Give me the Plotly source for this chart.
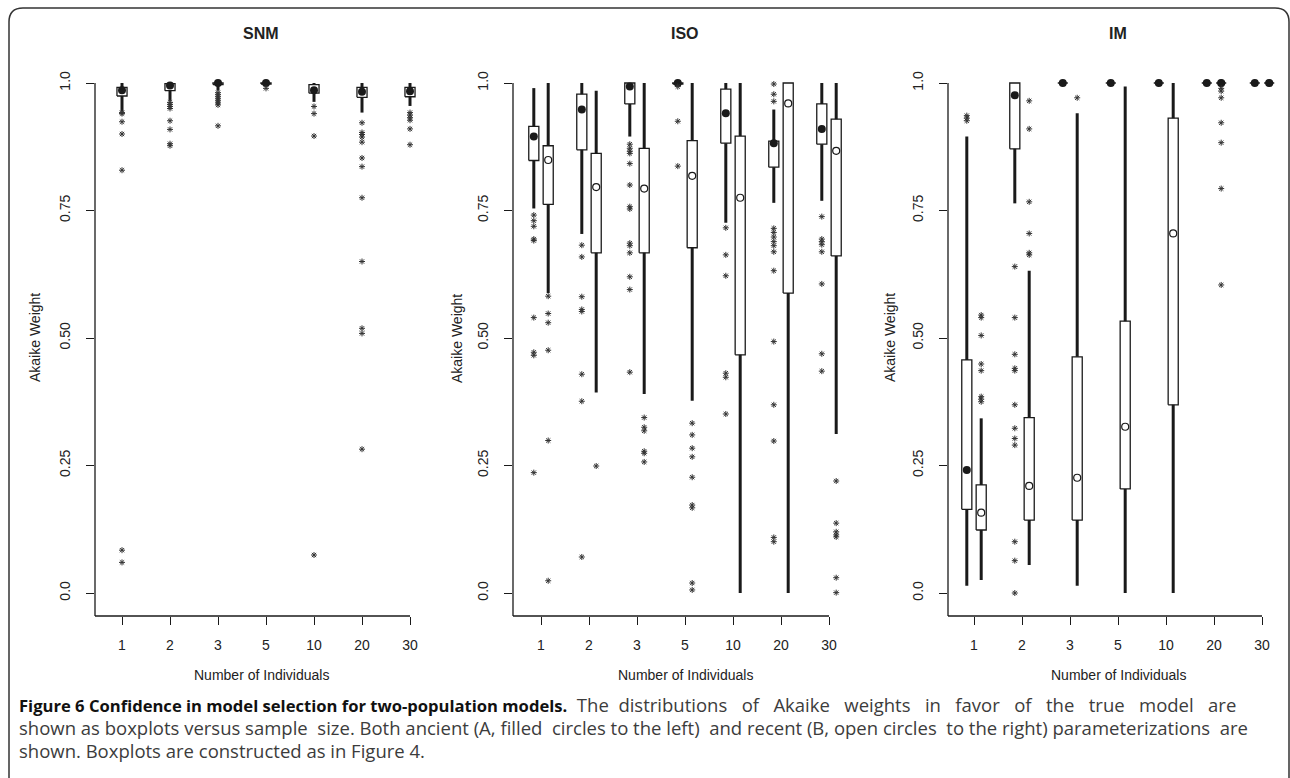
import plotly.graph_objects as go

# ---------------- data ----------------
categories = ["1", "2", "3", "5", "10", "20", "30"]
panel_titles = ["SNM", "ISO", "IM"]
y_tick_vals = [0.0, 0.25, 0.5, 0.75, 1.0]
y_tick_text = ["0.0", "0.25", "0.50", "0.75", "1.0"]
x_title = "Number of Individuals"
y_title = "Akaike Weight"

# SNM (single parameterization)
snm_low = [0.944, 0.965, 0.985, 0.995, 0.963, 0.942, 0.955]
snm_q1 = [0.9745, 0.985, 0.997, 0.998, 0.980, 0.972, 0.973]
snm_med = [0.986, 0.995, 1.0, 1.0, 0.986, 0.983, 0.984]
snm_q3 = [0.9915, 0.9987, 1.0, 1.0, 0.9967, 0.9915, 0.9915]
snm_high = [1.0, 1.0, 1.0, 1.0, 1.0, 1.0, 1.0]
snm_out = [
    [0.942, 0.940, 0.924, 0.900, 0.829, 0.084, 0.060],
    [0.962, 0.958, 0.954, 0.950, 0.926, 0.909, 0.881, 0.877],
    [0.981, 0.977, 0.973, 0.969, 0.965, 0.961, 0.957, 0.916],
    [0.9895],
    [0.954, 0.940, 0.896, 0.0745],
    [0.922, 0.903, 0.899, 0.894, 0.884, 0.853, 0.836, 0.775, 0.650, 0.519, 0.509, 0.282],
    [0.942, 0.937, 0.932, 0.927, 0.910, 0.879],
]

# ISO, ancient (A)
iso_a_low = [0.754, 0.704, 0.895, 0.997, 0.726, 0.765, 0.769]
iso_a_q1 = [0.848, 0.869, 0.959, 0.998, 0.882, 0.835, 0.880]
iso_a_med = [0.895, 0.948, 0.993, 1.0, 0.9405, 0.882, 0.910]
iso_a_q3 = [0.915, 0.978, 1.0, 1.0, 0.988, 0.886, 0.959]
iso_a_high = [0.990, 1.0, 1.0, 1.0, 1.0, 0.948, 1.0]
iso_a_out = [
    [0.741, 0.730, 0.719, 0.694, 0.691, 0.540, 0.472, 0.466, 0.236],
    [0.682, 0.659, 0.581, 0.556, 0.552, 0.429, 0.376, 0.0706],
    [0.880, 0.872, 0.866, 0.862, 0.842, 0.800, 0.7575, 0.753, 0.686, 0.681, 0.667, 0.620, 0.595, 0.433],
    [0.993, 0.925, 0.837],
    [0.716, 0.663, 0.622, 0.431, 0.423, 0.351],
    [0.998, 0.978, 0.964, 0.715, 0.707, 0.698, 0.689, 0.681, 0.669, 0.632, 0.493, 0.369, 0.298, 0.109, 0.1006],
    [0.738, 0.694, 0.689, 0.683, 0.669, 0.606, 0.469, 0.435],
]
# ISO, recent (B)
iso_b_low = [0.588, 0.393, 0.390, 0.377, 0.0, 0.0, 0.312]
iso_b_q1 = [0.762, 0.667, 0.667, 0.677, 0.467, 0.588, 0.661]
iso_b_med = [0.849, 0.796, 0.793, 0.818, 0.775, 0.960, 0.867]
iso_b_q3 = [0.877, 0.862, 0.872, 0.887, 0.896, 1.0, 0.929]
iso_b_high = [1.0, 0.985, 1.0, 1.0, 1.0, 1.0, 1.0]
iso_b_out = [
    [0.582, 0.548, 0.530, 0.476, 0.299, 0.024],
    [0.249],
    [0.344, 0.325, 0.318, 0.278, 0.274, 0.257],
    [0.333, 0.310, 0.284, 0.267, 0.227, 0.1725, 0.167, 0.0196, 0.006],
    [],
    [],
    [0.2196, 0.137, 0.120, 0.114, 0.110, 0.030, 0.0007],
]

# IM, ancient (A)
im_a_low = [0.0144, 0.764, 1.0, 1.0, 1.0, 1.0, 1.0]
im_a_q1 = [0.164, 0.871, 1.0, 1.0, 1.0, 1.0, 1.0]
im_a_med = [0.241, 0.976, 1.0, 1.0, 1.0, 1.0, 1.0]
im_a_q3 = [0.457, 1.0, 1.0, 1.0, 1.0, 1.0, 1.0]
im_a_high = [0.895, 1.0, 1.0, 1.0, 1.0, 1.0, 1.0]
im_a_out = [
    [0.936, 0.931, 0.926],
    [0.640, 0.540, 0.468, 0.4405, 0.436, 0.369, 0.323, 0.303, 0.290, 0.1006, 0.0634, 0.0],
    [], [], [], [], [],
]
# IM, recent (B)
im_b_low = [0.0255, 0.055, 0.0144, 0.0, 0.0, 0.993, 1.0]
im_b_q1 = [0.1235, 0.143, 0.143, 0.204, 0.369, 1.0, 1.0]
im_b_med = [0.1575, 0.210, 0.226, 0.326, 0.705, 1.0, 1.0]
im_b_q3 = [0.212, 0.344, 0.463, 0.533, 0.931, 1.0, 1.0]
im_b_high = [0.3425, 0.632, 0.9405, 0.993, 1.0, 1.0, 1.0]
im_b_out = [
    [0.545, 0.540, 0.505, 0.449, 0.436, 0.385, 0.380, 0.375],
    [0.965, 0.910, 0.767, 0.705, 0.667, 0.663],
    [0.971],
    [],
    [],
    [0.9895, 0.984, 0.971, 0.922, 0.883, 0.793, 0.604],
    [],
]

caption_bold = "Figure 6 Confidence in model selection for two-population models."
caption_l1 = "The distributions of Akaike weights in favor of the true model are"
caption_l2 = ("shown as boxplots versus sample size. Both ancient (A, filled circles to the left) "
              "and recent (B, open circles to the right) parameterizations are")
caption_l3 = "shown. Boxplots are constructed as in Figure 4."

# ---------------- layout geometry (pixels) ----------------
W, H = 1290, 778
STEP = 48.0
Y1_PX, Y0_PX = 83.0, 593.0
Y_TOP_PX, Y_BOT_PX = 58.0, 616.0
panels = [
    dict(axis=95.0, tick1=122.0, right=440.0, title_x=261.0, ytitle_x=35.0),
    dict(axis=513.0, tick1=541.0, right=862.0, title_x=685.0, ytitle_x=457.0),
    dict(axis=948.0, tick1=974.0, right=1288.0, title_x=1118.0, ytitle_x=890.0),
]
OFF = 0.15
HALF = 0.105
LINE = "#1a1a1a"
TXT = "#222222"
AST = "#333333"
FONT = "Liberation Sans, Arial, sans-serif"


def px_x(px):
    return px / W


def px_y(py):
    return 1 - py / H


def justify(text, extra):
    """Spread `extra` additional non-breaking spaces over the word gaps (text justification)."""
    words = text.split(" ")
    gaps = len(words) - 1
    out = words[0]
    for g in range(gaps):
        n = (extra * (g + 1)) // gaps - (extra * g) // gaps
        out += " " + "\u00a0" * n + words[g + 1]
    return out


series = [
    [(0.0, True, snm_low, snm_q1, snm_med, snm_q3, snm_high, snm_out)],
    [(-OFF, True, iso_a_low, iso_a_q1, iso_a_med, iso_a_q3, iso_a_high, iso_a_out),
     (OFF, False, iso_b_low, iso_b_q1, iso_b_med, iso_b_q3, iso_b_high, iso_b_out)],
    [(-OFF, True, im_a_low, im_a_q1, im_a_med, im_a_q3, im_a_high, im_a_out),
     (OFF, False, im_b_low, im_b_q1, im_b_med, im_b_q3, im_b_high, im_b_out)],
]

fig = go.Figure()
pos = list(range(1, len(categories) + 1))

for pi, (pan, sers) in enumerate(zip(panels, series)):
    sfx = "" if pi == 0 else str(pi + 1)
    xa, ya = "x" + sfx, "y" + sfx
    for off, filled, lo, q1, md, q3, hi, outs in sers:
        wx, wy, bx, by = [], [], [], []
        for i, p in enumerate(pos):
            c = p + off
            wx += [c, c, None]
            wy += [lo[i], hi[i], None]
            bx += [c - HALF, c + HALF, c + HALF, c - HALF, c - HALF, None]
            by += [q1[i], q1[i], q3[i], q3[i], q1[i], None]
        fig.add_trace(go.Scatter(x=wx, y=wy, xaxis=xa, yaxis=ya, mode="lines",
                                 line=dict(color=LINE, width=3), showlegend=False,
                                 hoverinfo="skip"))
        fig.add_trace(go.Scatter(x=bx, y=by, xaxis=xa, yaxis=ya, mode="lines",
                                 fill="toself", fillcolor="white",
                                 line=dict(color=LINE, width=1.3), showlegend=False,
                                 hoverinfo="skip"))
        cx = [p + off for p in pos]
        if filled:
            fig.add_trace(go.Scatter(x=cx, y=md, xaxis=xa, yaxis=ya, mode="markers",
                                     marker=dict(symbol="circle", size=8, color=LINE),
                                     cliponaxis=False, showlegend=False))
        else:
            degenerate = [(q3[i] - q1[i]) < 0.005 for i in range(len(pos))]
            syms = ["circle" if d else "circle-open" for d in degenerate]
            fig.add_trace(go.Scatter(x=cx, y=md, xaxis=xa, yaxis=ya, mode="markers",
                                     marker=dict(symbol=syms, size=7, color=LINE,
                                                 line=dict(width=1.2, color=LINE)),
                                     cliponaxis=False, showlegend=False))
        ox, oy = [], []
        for i, p in enumerate(pos):
            ox += [p + off] * len(outs[i])
            oy += outs[i]
        fig.add_trace(go.Scatter(x=ox, y=oy, xaxis=xa, yaxis=ya, mode="markers",
                                 marker=dict(symbol="asterisk-open", size=5, color=AST,
                                             line=dict(width=1, color=AST)),
                                 cliponaxis=False, showlegend=False))

    scale = Y0_PX - Y1_PX
    yr = [-(Y_BOT_PX - Y0_PX) / scale, 1 + (Y1_PX - Y_TOP_PX) / scale]
    xr = [1 - (pan["tick1"] - pan["axis"]) / STEP, 1 + (pan["right"] - pan["tick1"]) / STEP]
    fig.update_layout(**{
        "xaxis" + sfx: dict(domain=[px_x(pan["axis"]), px_x(pan["right"])], range=xr,
                            anchor=ya, tickmode="array", tickvals=pos, ticktext=categories,
                            ticks="outside", ticklen=8, tickwidth=1.2, tickcolor=LINE,
                            showgrid=False, zeroline=False, showline=False,
                            ticklabelstandoff=8,
                            tickfont=dict(family=FONT, size=14, color=TXT)),
        "yaxis" + sfx: dict(domain=[px_y(Y_BOT_PX), px_y(Y_TOP_PX)], range=yr,
                            anchor=xa, tickmode="array", tickvals=y_tick_vals,
                            ticktext=y_tick_text, tickangle=-90,
                            ticks="outside", ticklen=8, tickwidth=1.2, tickcolor=LINE,
                            showgrid=False, zeroline=False, showline=False,
                            ticklabelstandoff=10,
                            tickfont=dict(family=FONT, size=14, color=TXT)),
    })
    tick7 = pan["tick1"] + STEP * (len(categories) - 1)
    # L-shaped axis frame
    fig.add_shape(type="line", xref="paper", yref="paper",
                  x0=px_x(pan["axis"]), x1=px_x(pan["axis"]),
                  y0=px_y(Y1_PX), y1=px_y(Y_BOT_PX), line=dict(color=LINE, width=1.3))
    fig.add_shape(type="line", xref="paper", yref="paper",
                  x0=px_x(pan["axis"]), x1=px_x(tick7),
                  y0=px_y(Y_BOT_PX), y1=px_y(Y_BOT_PX), line=dict(color=LINE, width=1.3))
    # titles
    fig.add_annotation(x=px_x(pan["title_x"]), y=px_y(34), xref="paper", yref="paper",
                       text="<b>" + panel_titles[pi] + "</b>", showarrow=False,
                       xanchor="center", yanchor="middle",
                       font=dict(family=FONT, size=16, color=TXT))
    fig.add_annotation(x=px_x(pan["title_x"]), y=px_y(675), xref="paper", yref="paper",
                       text=x_title, showarrow=False, xanchor="center", yanchor="middle",
                       font=dict(family=FONT, size=14, color=TXT))
    fig.add_annotation(x=px_x(pan["ytitle_x"]), y=px_y((Y0_PX + Y1_PX) / 2),
                       xref="paper", yref="paper", text=y_title, textangle=-90,
                       showarrow=False, xanchor="center", yanchor="middle",
                       font=dict(family=FONT, size=14, color=TXT))

# caption (justified lines 1-2, like the journal layout)
CAP_FONT = "Open Sans, Noto Sans, sans-serif"
GRAY = "#3c3c3c"
cap_lines = [
    "<span style='font-size:16.6px'><b>" + caption_bold + "</b></span>"
    "<span style='color:" + GRAY + "'> \u00a0" + justify(caption_l1, 21) + "</span>",
    "<span style='color:" + GRAY + "'>" + justify(caption_l2, 5) + "</span>",
    "<span style='color:" + GRAY + "'>" + caption_l3 + "</span>",
]
for k, (txt, ypx) in enumerate(zip(cap_lines, [704, 727, 750])):
    fig.add_annotation(x=px_x(17), y=px_y(ypx), xref="paper", yref="paper", text=txt,
                       showarrow=False, xanchor="left", yanchor="middle", align="left",
                       font=dict(family=CAP_FONT, size=18.5, color="#111111"))

# rounded frame
r = 14
L, T, R, B = 9, 8, 1289, 800
path = (f"M {px_x(L)},{px_y(B)} L {px_x(L)},{px_y(T + r)} "
        f"Q {px_x(L)},{px_y(T)} {px_x(L + r)},{px_y(T)} "
        f"L {px_x(R - r)},{px_y(T)} Q {px_x(R)},{px_y(T)} {px_x(R)},{px_y(T + r)} "
        f"L {px_x(R)},{px_y(B)}")
fig.add_shape(type="path", xref="paper", yref="paper", path=path,
              line=dict(color="#333333", width=1.5))

fig.update_layout(width=W, height=H, margin=dict(l=0, r=0, t=0, b=0, pad=0),
                  paper_bgcolor="white", plot_bgcolor="white",
                  font=dict(family=FONT, color=TXT), hovermode=False)

fig.write_html("out.html", config={"displayModeBar": False},
               post_script="document.body.style.margin='0';"
                           "document.body.style.overflow='hidden';")
